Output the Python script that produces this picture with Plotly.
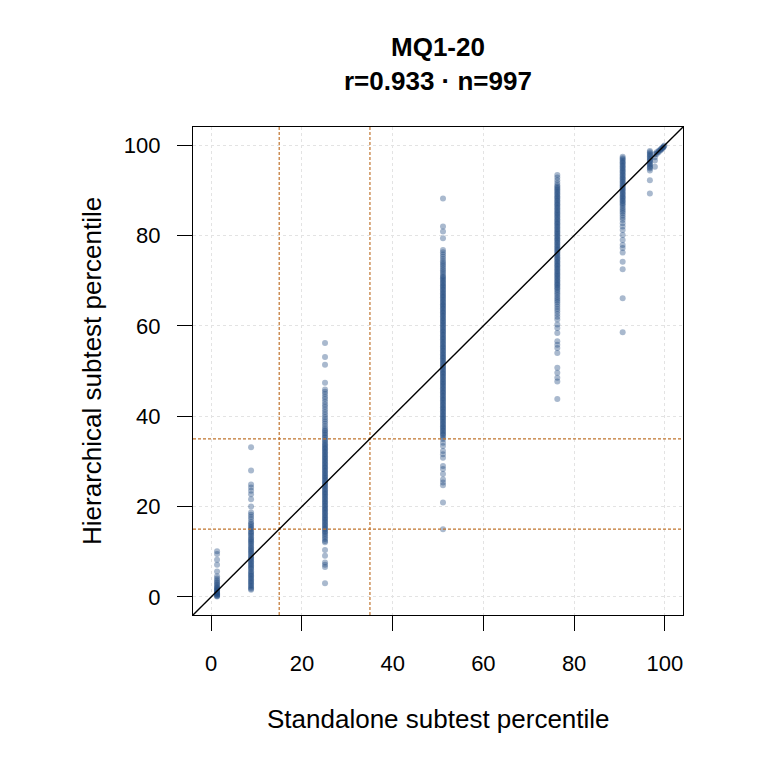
import plotly.graph_objects as go

# Standalone subtest percentile (column positions)
col_x = [1.3, 8.8, 25.1, 51.1, 76.3, 90.7, 96.7]

# Hierarchical subtest percentile values per column
y_c1 = [10.1, 9.5, 8.2, 7.1, 5.6, 4.6, 4.1, 3.7, 3.3, 3.0, 2.7, 2.4, 2.1, 1.9, 1.7,
        1.5, 1.3, 1.1, 0.9, 0.8, 0.6, 0.5, 0.3, 0.2, 0.1]
y_c2 = [33.1, 28.0, 24.9, 24.2, 23.5, 22.7, 21.6, 20.0, 18.7, 18.2, 17.7, 17.2, 16.6,
        16.2, 15.9, 15.5, 15.2, 14.9, 14.5, 14.2, 13.9, 13.6, 13.2, 12.9, 12.6, 12.3,
        12.0, 11.7, 11.3, 11.0, 10.7, 10.4, 10.1, 9.8, 9.5, 9.1, 8.8, 8.5, 8.2, 7.9,
        7.6, 7.3, 7.0, 6.7, 6.4, 6.1, 5.7, 5.4, 5.1, 4.8, 4.5, 4.2, 3.9, 3.6, 3.3,
        3.0, 2.7, 2.4, 2.1, 1.8, 1.6]
y_c3 = [56.2, 53.1, 51.4, 47.4, 45.9, 45.4, 44.9, 44.3, 43.8, 43.2, 42.6, 42.1, 41.5,
        40.9, 40.4, 39.8, 39.3, 38.8, 38.3, 37.8, 37.3, 36.9, 36.6, 36.2, 35.9, 35.5,
        35.2, 34.8, 34.5, 34.1, 33.8, 33.5, 33.2, 32.9, 32.6, 32.3, 32.0, 31.7, 31.4,
        31.1, 30.8, 30.5, 30.2, 29.9, 29.6, 29.3, 29.0, 28.7, 28.4, 28.1, 27.8, 27.5,
        27.2, 26.9, 26.6, 26.3, 26.0, 25.7, 25.4, 25.1, 24.8, 24.5, 24.2, 23.9, 23.6,
        23.3, 23.0, 22.7, 22.4, 22.1, 21.8, 21.5, 21.2, 20.9, 20.6, 20.3, 20.0, 19.7,
        19.4, 19.1, 18.8, 18.5, 18.2, 17.9, 17.6, 17.3, 17.0, 16.7, 16.4, 16.1, 15.8,
        15.5, 15.2, 14.9, 14.6, 14.3, 14.0, 13.6, 13.2, 12.8, 12.4, 12.1,
        10.4, 9.1, 7.6, 7.1, 6.6, 3.0]
y_c4 = [88.2, 82.0, 80.9, 79.4, 76.8, 76.3, 75.8, 75.3, 74.8, 74.3, 73.9, 73.5, 73.1,
        72.7, 72.3, 71.9, 71.5, 71.1, 70.8, 70.5, 70.2, 69.9, 69.6, 69.3, 69.0, 68.7,
        68.4, 68.1, 67.8, 67.5, 67.2, 66.9, 66.6, 66.3, 66.0, 65.7, 65.4, 65.1, 64.8,
        64.5, 64.2, 63.9, 63.6, 63.3, 63.0, 62.7, 62.4, 62.1, 61.8, 61.5, 61.2, 60.9,
        60.6, 60.3, 60.0, 59.7, 59.4, 59.1, 58.8, 58.5, 58.2, 57.9, 57.6, 57.3, 57.0,
        56.7, 56.4, 56.1, 55.8, 55.5, 55.2, 54.9, 54.6, 54.3, 54.0, 53.7, 53.4, 53.1,
        52.8, 52.5, 52.2, 51.9, 51.6, 51.3, 51.0, 50.7, 50.4, 50.1, 49.8, 49.5, 49.2,
        48.9, 48.6, 48.3, 48.0, 47.7, 47.4, 47.1, 46.8, 46.5, 46.2, 45.9, 45.6, 45.3,
        45.0, 44.7, 44.4, 44.1, 43.8, 43.5, 43.2, 42.9, 42.6, 42.3, 42.0, 41.7, 41.4,
        41.1, 40.8, 40.5, 40.2, 39.9, 39.6, 39.3, 39.0, 38.7, 38.4, 38.1, 37.8, 37.5,
        37.2, 36.9, 36.6, 36.3, 36.0, 35.7, 35.3, 34.9, 34.1, 33.4, 32.3, 31.6, 30.8,
        29.0, 28.3, 27.2, 26.0, 25.3, 24.7, 20.9, 15.0]
y_c5 = [93.4, 92.8, 92.2, 91.6, 91.1, 90.8, 90.5, 90.2, 89.9, 89.6, 89.3, 89.0, 88.7,
        88.4, 88.1, 87.8, 87.5, 87.2, 86.9, 86.6, 86.3, 86.0, 85.7, 85.4, 85.1, 84.8,
        84.5, 84.2, 83.9, 83.6, 83.3, 83.0, 82.7, 82.4, 82.1, 81.8, 81.5, 81.2, 80.9,
        80.6, 80.3, 80.0, 79.7, 79.4, 79.1, 78.8, 78.5, 78.2, 77.9, 77.6, 77.3, 77.0,
        76.7, 76.4, 76.1, 75.8, 75.5, 75.2, 74.9, 74.6, 74.3, 74.0, 73.7, 73.4, 73.1,
        72.8, 72.5, 72.2, 71.9, 71.6, 71.3, 71.0, 70.7, 70.4, 70.1, 69.8, 69.5, 69.2,
        68.9, 68.6, 68.3, 68.0, 67.6, 67.2, 66.8, 66.4, 66.0, 65.6, 65.2, 64.7, 64.2,
        63.7, 63.2, 62.6, 62.0, 61.4, 60.3, 59.5, 58.4, 56.6, 55.8, 55.1, 54.0, 50.7,
        49.6, 48.5, 47.7, 43.8]
y_c6 = [97.4, 97.1, 96.8, 96.5, 96.2, 95.9, 95.6, 95.3, 95.0, 94.7, 94.4, 94.1, 93.8,
        93.5, 93.2, 92.9, 92.6, 92.3, 92.0, 91.7, 91.4, 91.1, 90.8, 90.5, 90.2, 89.9,
        89.6, 89.3, 89.0, 88.7, 88.4, 88.1, 87.8, 87.5, 87.2, 86.9, 86.5, 86.1, 85.7,
        85.3, 84.9, 84.4, 83.9, 83.4, 82.7, 82.0, 81.2, 80.1, 79.0, 77.9, 77.2, 76.2,
        74.2, 72.5, 66.1, 58.6]
y_c7 = [98.7, 98.4, 98.1, 97.8, 97.5, 97.2, 96.9, 96.6, 96.3, 96.0, 95.7, 95.4, 95.1,
        94.8, 94.4, 92.2, 89.3]

# Top cluster near the diagonal
x_c8 = [97.8, 97.8, 97.8, 97.8, 98.2, 98.2, 98.6, 98.6, 99.0, 99.0, 99.3, 99.3, 99.6,
        99.6, 99.8, 99.9]
y_c8 = [98.0, 97.3, 96.6, 95.2, 98.4, 98.0, 98.7, 98.4, 99.0, 98.8, 99.3, 99.1, 99.5,
        99.4, 99.7, 99.9]

cols_y = [y_c1, y_c2, y_c3, y_c4, y_c5, y_c6, y_c7]

tick_vals = [0, 20, 40, 60, 80, 100]
guide_vals = [15, 35]

title_line1 = "MQ1-20"
title_line2 = "r=0.933 · n=997"
x_title = "Standalone subtest percentile"
y_title = "Hierarchical subtest percentile"

xs, ys = [], []
for cx, cy in zip(col_x, cols_y):
    xs += [cx] * len(cy)
    ys += cy
xs += x_c8
ys += y_c8

FONT = "Liberation Sans, Arial, Helvetica, sans-serif"
PT_COLOR = "rgba(28,70,125,0.38)"
GUIDE = "#C0742E"

fig = go.Figure()
fig.add_trace(go.Scatter(
    x=xs, y=ys, mode="markers",
    marker=dict(size=6, color=PT_COLOR, line=dict(width=0)),
    hoverinfo="skip", showlegend=False,
))

shapes = []
for g in guide_vals:
    shapes.append(dict(type="line", xref="x", yref="paper", x0=g, x1=g, y0=0, y1=1,
                       line=dict(color=GUIDE, width=1.2, dash="3px,2px"), layer="above"))
    shapes.append(dict(type="line", xref="paper", yref="y", x0=0, x1=1, y0=g, y1=g,
                       line=dict(color=GUIDE, width=1.2, dash="3px,2px"), layer="above"))
shapes.append(dict(type="line", xref="x", yref="y", x0=-4, y0=-4, x1=104, y1=104,
                   line=dict(color="black", width=1.4), layer="above"))

axis_common = dict(
    range=[-4, 104], tickvals=tick_vals, ticktext=[str(v) for v in tick_vals],
    ticks="outside", ticklen=15, tickwidth=1.2, tickcolor="black",
    showline=True, mirror=True, linecolor="black", linewidth=1.3,
    showgrid=True, gridcolor="#E3E3E3", gridwidth=1, griddash="3px,3px",
    zeroline=False, tickfont=dict(family=FONT, size=22, color="black"),
    fixedrange=True,
)

fig.update_layout(
    width=760, height=760,
    margin=dict(l=193, r=77, t=127, b=145),
    paper_bgcolor="white", plot_bgcolor="white",
    xaxis=dict(**axis_common, ticklabelstandoff=13),
    yaxis=dict(**axis_common, ticklabelstandoff=12),
    shapes=shapes,
    annotations=[
        dict(text="<b>" + title_line1 + "</b><br><b>" + title_line2 + "</b>",
             xref="paper", yref="paper", x=0.5, y=(615 - 64) / 488.0,
             xanchor="center", yanchor="middle", showarrow=False,
             font=dict(family=FONT, size=26, color="black")),
        dict(text=x_title, xref="paper", yref="paper", x=0.5, y=(615 - 719) / 488.0,
             xanchor="center", yanchor="middle", showarrow=False,
             font=dict(family=FONT, size=26, color="black")),
        dict(text=y_title, xref="paper", yref="paper", x=(92 - 193) / 490.0, y=0.5,
             xanchor="center", yanchor="middle", showarrow=False, textangle=-90,
             font=dict(family=FONT, size=26, color="black")),
    ],
)

fig.write_html("out.html")
